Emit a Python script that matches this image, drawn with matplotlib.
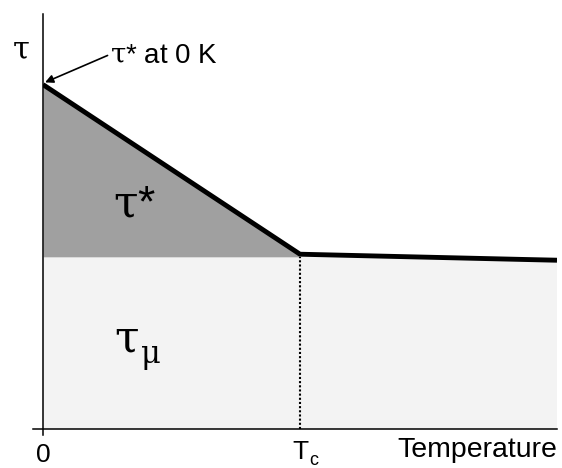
import matplotlib.pyplot as plt
import numpy as np

plt.rcParams['font.family'] = ['Liberation Sans', 'DejaVu Sans']
plt.rcParams['mathtext.fontset'] = 'custom'
plt.rcParams['mathtext.rm'] = 'DejaVu Serif'

# flow stress vs temperature (arbitrary units, Tc = 1)
temp = [0.0, 1.0, 2.0]
tau_total = [2.0, 1.015, 0.98]
tau_mu = 1.0
x_max = 2.0
y_max = 2.41

fig = plt.figure(figsize=(5.62, 4.68), dpi=100)
ax = fig.add_axes([43 / 562, 39 / 468, 514 / 562, 415 / 468])
ax.set_xlim(0, x_max)
ax.set_ylim(0, y_max)
ax.axis('off')

# athermal part
ax.fill_between([0, x_max], 0, tau_mu, color='#f3f3f3', lw=0)
# thermal part tau*
ax.fill_between(temp[:2], tau_mu, tau_total[:2], color='#a0a0a0', lw=0)

ax.plot(temp, tau_total, color='black', lw=3.5, solid_capstyle='butt', zorder=3)
ax.plot([temp[1], temp[1]], [0, tau_mu], color='black', ls=(0, (1, 1)), lw=1.5)

# axes
ax.plot([0, 0], [-0.035, y_max], color='black', lw=1.1, clip_on=False)
ax.plot([-0.04, x_max], [0, 0], color='black', lw=1.1, clip_on=False)

ax.text(-0.05, 2.145, r'$\mathrm{\tau}$', fontsize=22, ha='right', va='baseline')
ax.annotate(r'$\mathrm{\tau}$* at 0 K', xy=(0.008, 2.013), xytext=(0.262, 2.128),
            fontsize=20, va='baseline', ha='left',
            arrowprops=dict(arrowstyle='-|>', color='black', lw=1.2,
                            mutation_scale=12, shrinkA=0, shrinkB=0,
                            relpos=(0, 0.55)))
ax.text(0.272, 1.227, r'$\mathrm{\tau}$*', fontsize=32, ha='left', va='baseline')
ax.text(0.276, 0.448, r'$\mathrm{\tau}$', fontsize=32, ha='left', va='baseline')
ax.text(0.378, 0.385, r'$\mathrm{\mu}$', fontsize=22, ha='left', va='baseline')

ax.text(0, -0.192, '0', fontsize=19, ha='center', va='baseline')
ax.text(0.969, -0.174, 'T', fontsize=19, ha='left', va='baseline')
ax.text(1.035, -0.21, 'c', fontsize=13, ha='left', va='baseline')
ax.text(x_max, -0.163, 'Temperature', fontsize=20.5, ha='right', va='baseline')

fig.savefig('out.png', dpi=100)
